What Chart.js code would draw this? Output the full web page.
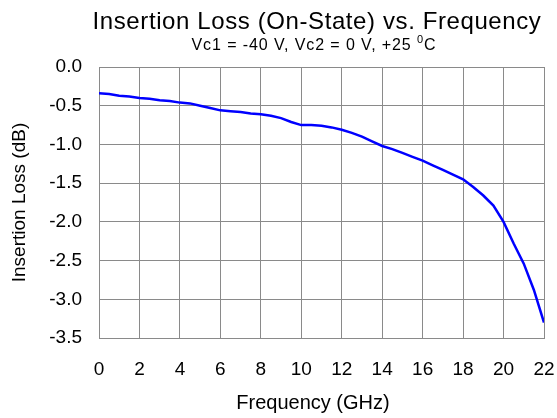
<!DOCTYPE html>
<html>
<head>
<meta charset="utf-8">
<script src="https://cdn.jsdelivr.net/npm/chart.js@4/dist/chart.umd.min.js"></script>
<style>
  html, body { margin: 0; padding: 0; background: #fff; }
  #wrap { width: 557px; height: 418px; }
</style>
</head>
<body>
<div id="wrap"><canvas id="mychart" width="557" height="418"></canvas></div>
<script>
const freqGHz = [0, 0.5, 1, 1.5, 2, 2.5, 3, 3.5, 4, 4.5, 5, 5.5, 6, 6.5, 7, 7.5, 8, 8.5, 9, 9.5,
  10, 10.5, 11, 11.5, 12, 12.5, 13, 13.5, 14, 14.5, 15, 15.5, 16, 16.5, 17, 17.5, 18, 18.5,
  19, 19.5, 20, 20.5, 21, 21.5, 22];
const lossDb = [-0.34, -0.35, -0.37, -0.38, -0.40, -0.41, -0.43, -0.44, -0.46, -0.47, -0.50,
  -0.53, -0.56, -0.57, -0.58, -0.60, -0.61, -0.63, -0.66, -0.71, -0.75, -0.75, -0.76, -0.78,
  -0.81, -0.85, -0.90, -0.96, -1.02, -1.06, -1.11, -1.16, -1.21, -1.27, -1.33, -1.39, -1.45,
  -1.55, -1.66, -1.79, -2.00, -2.28, -2.54, -2.88, -3.30];
const xTicks = [0, 2, 4, 6, 8, 10, 12, 14, 16, 18, 20, 22];
const yTicks = [0, -0.5, -1, -1.5, -2, -2.5, -3, -3.5];

const titleText = 'Insertion Loss (On-State) vs. Frequency';
const subtitleParts = ['Vc1 = -40 V, Vc2 = 0 V, +25 ', '0', 'C'];
const xTitle = 'Frequency (GHz)';

const myChart = document.querySelector('#mychart');
const fontFam = '"Liberation Sans", Arial, sans-serif';
const gridCol = '#8a8a8a';

// title, subtitle (with the superscript 0) and x axis title
const titlePlugin = {
  id: 'titles',
  afterDraw(chart) {
    const ctx = chart.ctx;
    ctx.save();
    ctx.fillStyle = '#000';
    ctx.textBaseline = 'alphabetic';
    ctx.textAlign = 'center';
    ctx.letterSpacing = '0.6px';
    ctx.font = '24px ' + fontFam;
    ctx.fillText(titleText, 317, 29);

    ctx.letterSpacing = '0.9px';
    const big = '16px ' + fontFam;
    const small = '11px ' + fontFam;
    ctx.font = big;
    const w1 = ctx.measureText(subtitleParts[0]).width;
    const w3 = ctx.measureText(subtitleParts[2]).width;
    ctx.font = small;
    const w2 = ctx.measureText(subtitleParts[1]).width;
    let x = 314 - (w1 + w2 + w3) / 2;
    ctx.textAlign = 'left';
    ctx.font = big;
    ctx.fillText(subtitleParts[0], x, 50);
    x += w1;
    ctx.font = small;
    ctx.fillText(subtitleParts[1], x, 43);
    x += w2;
    ctx.font = big;
    ctx.fillText(subtitleParts[2], x, 50);

    // x axis title sits a little left of the plot centre in the original
    ctx.letterSpacing = '0px';
    ctx.textAlign = 'center';
    ctx.textBaseline = 'middle';
    ctx.font = '20px ' + fontFam;
    ctx.fillText(xTitle, 313, 403);
    ctx.restore();
  }
};

const data = {
  datasets: [{
    label: 'Insertion Loss',
    data: freqGHz.map((f, i) => ({ x: f, y: lossDb[i] })),
    borderColor: '#0000ff',
    borderWidth: 2.5,
    pointRadius: 0,
    fill: false,
    tension: 0
  }]
};

const config = {
  type: 'line',
  data: data,
  options: {
    responsive: false,
    animation: false,
    events: [],
    layout: { padding: { top: 67, right: 13, left: 0, bottom: 0 } },
    plugins: { legend: { display: false }, tooltip: { enabled: false } },
    scales: {
      x: {
        type: 'linear',
        min: 0,
        max: 22,
        afterBuildTicks(scale) { scale.ticks = xTicks.map(v => ({ value: v })); },
        afterFit(scale) {
          scale.height = 80;
          scale.paddingLeft = 0;
          scale.paddingRight = 0;
        },
        grid: { color: gridCol, lineWidth: 1, drawTicks: false },
        border: { color: gridCol, width: 1 },
        ticks: {
          color: '#000',
          padding: 20,
          maxRotation: 0,
          font: { family: fontFam, size: 19 }
        },
        title: { display: false }
      },
      y: {
        type: 'linear',
        min: -3.5,
        max: 0,
        afterBuildTicks(scale) { scale.ticks = yTicks.map(v => ({ value: v })); },
        afterFit(scale) {
          scale.width = 99;
          scale.paddingTop = 0;
          scale.paddingBottom = 0;
        },
        grid: { color: gridCol, lineWidth: 1, drawTicks: false },
        border: { color: gridCol, width: 1 },
        ticks: {
          color: '#000',
          padding: 17,
          callback: v => v.toFixed(1),
          font: { family: fontFam, size: 19 }
        },
        title: {
          display: true,
          text: 'Insertion Loss (dB)',
          color: '#000',
          font: { family: fontFam, size: 19 },
          padding: { top: 8, bottom: 0 }
        }
      }
    }
  },
  plugins: [titlePlugin]
};

const lineChart = new Chart(myChart, config);
</script>
</body>
</html>
